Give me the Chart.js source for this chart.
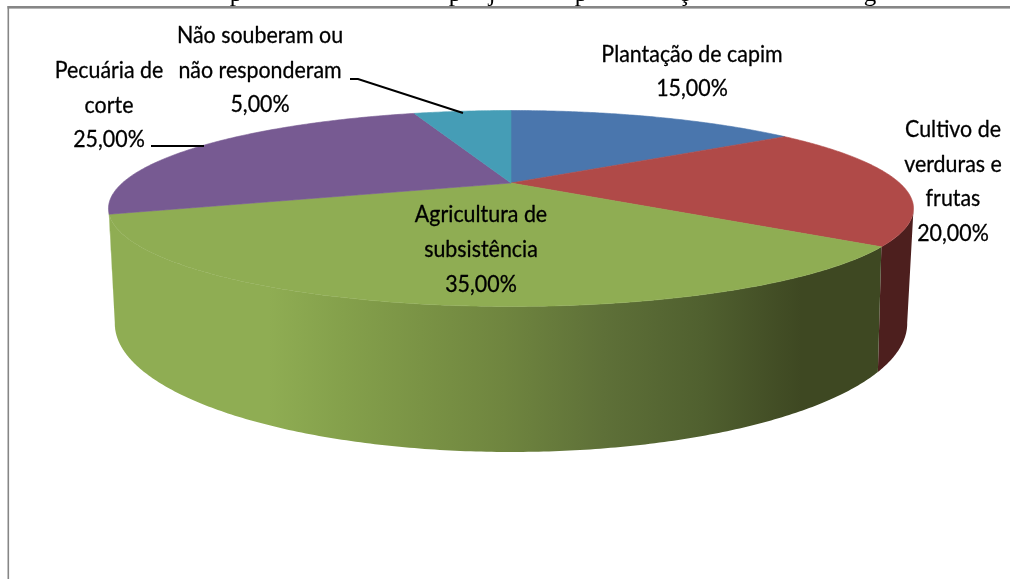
<!DOCTYPE html>
<html lang="pt">
<head>
<meta charset="utf-8">
<title>Pizza 3D</title>
<style>
  html, body { margin: 0; padding: 0; background: #fff; overflow: hidden; }
  canvas { display: block; }
</style>
</head>
<body>
<canvas id="pie" width="1010" height="579"></canvas>
<script src="https://cdn.jsdelivr.net/npm/chart.js@4"></script>
<script>
// --- data
const categories = [
  "Plantação de capim",
  "Cultivo de verduras e frutas",
  "Agricultura de subsistência",
  "Pecuária de corte",
  "Não souberam ou não responderam"
];
const values = [15, 20, 35, 25, 5];
const labelLines = [
  ["Plantação de capim"],
  ["Cultivo de", "verduras e", "frutas"],
  ["Agricultura de", "subsistência"],
  ["Pecuária de", "corte"],
  ["Não souberam ou", "não responderam"]
];
const topColors = ["#4a76ad", "#b04a48", "#8fad53", "#775a92", "#459db6"];
// purple only gets a sub-pixel sliver of wall, kept green so the left edge stays clean
const wallColors = ["#2c4668", "#4d1f1e", "#3e4822", "#8fad53", "#2a5f6e"];

// --- layout (pixels of the 1010x579 page)
const labelSpots = [
  { x: 692, y: 55, gap: 34 },
  { x: 953, y: 130, gap: 34.4 },
  { x: 481, y: 215, gap: 35 },
  { x: 109, y: 71, gap: 34.5 },
  { x: 260, y: 36, gap: 34.5 }
];
const leaders = [
  [[151, 146], [204, 146]],
  [[350, 79], [358, 79], [463, 113]]
];
// only the descenders of the line above the frame show up
const clippedTitle = [["p", 236], ["p", 455], ["j", 492], ["p", 581], ["ç", 684], ["g", 870]];

// perspective of the two discs: a tilted circle, hub is not the ellipse center
const topDisc = { k: 0.255, a: 389.2, b: 91.6, dy: 0.5 };
const bottomDisc = { k: 0.27, a: 381.5, b: 119.2, dy: 105.7 };
const silhouette = Math.acos(-0.2625); // clockwise from twelve, wall faces us past this

function project(arc, disc, angle) {
  const t = angle + Math.PI / 2; // 0 at twelve o'clock, clockwise
  const w = 1 + disc.k * Math.cos(t);
  return {
    x: arc.x + disc.a * Math.sin(t) / w,
    y: arc.y + disc.dy - disc.b * Math.cos(t) / w
  };
}

function traceRim(ctx, arc, disc, from, to) {
  const n = Math.max(2, Math.ceil(Math.abs(to - from) / 0.01));
  for (let i = 0; i <= n; i++) {
    const p = project(arc, disc, from + (to - from) * i / n);
    ctx.lineTo(p.x, p.y);
  }
}

// just the part of the rim that faces the viewer
function drawWall(ctx, arc, fill) {
  const quarter = Math.PI / 2;
  const from = Math.max(arc.startAngle, silhouette - quarter);
  const to = Math.min(arc.endAngle, 2 * Math.PI - silhouette - quarter);
  if (to <= from) return;
  ctx.beginPath();
  traceRim(ctx, arc, topDisc, from, to);
  traceRim(ctx, arc, bottomDisc, to, from);
  ctx.closePath();
  ctx.fillStyle = fill;
  ctx.fill();
}

function drawTop(ctx, arc, fill) {
  ctx.beginPath();
  ctx.moveTo(arc.x, arc.y);
  traceRim(ctx, arc, topDisc, arc.startAngle, arc.endAngle);
  ctx.closePath();
  ctx.fillStyle = fill;
  ctx.strokeStyle = fill;
  ctx.lineWidth = 0.6;
  ctx.fill();
  ctx.stroke();
}

function greenWall(ctx) {
  const g = ctx.createLinearGradient(116, 0, 878, 0);
  [
    [0, "#8fad53"], [0.2, "#8fad53"], [0.3, "#84a04b"], [0.4, "#7a9345"],
    [0.51, "#6f853f"], [0.64, "#5e7038"], [0.77, "#50602f"], [0.87, "#424d25"],
    [0.9, "#3e4822"], [1, "#3e4822"]
  ].forEach(s => g.addColorStop(s[0], s[1]));
  return g;
}

function pct(v) { return v.toFixed(2).replace(".", ",") + "%"; }

const pie3d = {
  id: "pie3d",
  beforeDraw(chart) {
    const ctx = chart.ctx;
    ctx.save();
    // frame, only left and top fall inside the crop
    ctx.fillStyle = "#868686";
    ctx.fillRect(7.5, 6, 1.6, 573);
    ctx.fillRect(7.5, 6, 1003, 2.6);
    ctx.fillStyle = "#000";
    ctx.font = "25px 'Liberation Serif'";
    ctx.textAlign = "center";
    ctx.textBaseline = "alphabetic";
    ctx.beginPath();
    ctx.rect(0, 0, 1010, 6);
    ctx.clip();
    clippedTitle.forEach(g => ctx.fillText(g[0], g[1], 1));
    ctx.restore();
  },
  beforeDatasetDraw(chart) {
    const ctx = chart.ctx;
    const arcs = chart.getDatasetMeta(0).data;
    ctx.save();
    arcs.forEach((arc, i) => {
      drawWall(ctx, arc, i === 2 ? greenWall(ctx) : wallColors[i]);
    });
    arcs.forEach((arc, i) => drawTop(ctx, arc, topColors[i]));
    ctx.restore();
    return false; // flat arcs stay undrawn
  },
  afterDatasetsDraw(chart) {
    const ctx = chart.ctx;
    ctx.save();
    ctx.strokeStyle = "#000";
    ctx.lineWidth = 2;
    leaders.forEach(l => {
      ctx.beginPath();
      l.forEach((p, i) => (i ? ctx.lineTo(p[0], p[1]) : ctx.moveTo(p[0], p[1])));
      ctx.stroke();
    });
    ctx.fillStyle = "#000";
    ctx.lineWidth = 0.3;
    ctx.lineJoin = "round";
    ctx.font = "23px Lato";
    ctx.textAlign = "center";
    ctx.textBaseline = "middle";
    const narrow = 0.93;
    labelLines.forEach((lines, i) => {
      const s = labelSpots[i];
      lines.concat(pct(values[i])).forEach((txt, j) => {
        ctx.save();
        ctx.translate(s.x, s.y + j * s.gap);
        ctx.scale(narrow, 1);
        ctx.fillText(txt, 0, 0);
        ctx.strokeText(txt, 0, 0);
        ctx.restore();
      });
    });
    ctx.restore();
  }
};

new Chart(document.getElementById("pie"), {
  type: "pie",
  data: {
    labels: categories,
    datasets: [{ data: values, backgroundColor: topColors, borderWidth: 0 }]
  },
  options: {
    responsive: false,
    animation: false,
    layout: { padding: { left: 12, right: 0, top: 0, bottom: 213 } },
    plugins: { legend: { display: false }, tooltip: { enabled: false } }
  },
  plugins: [pie3d]
});
</script>
</body>
</html>
